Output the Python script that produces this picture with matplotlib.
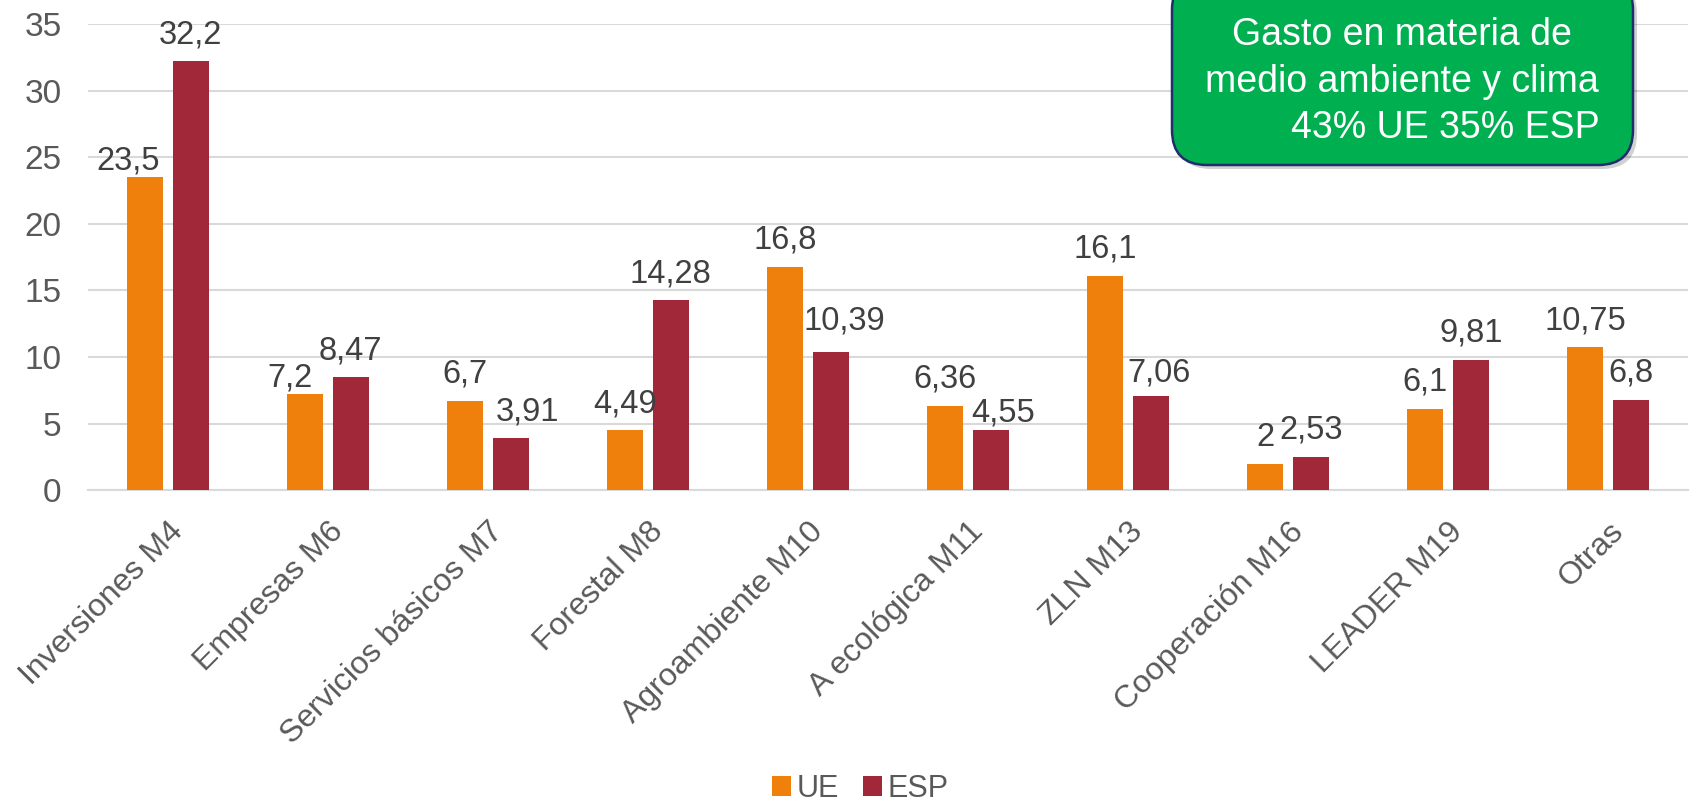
import matplotlib.pyplot as plt
import matplotlib.patches as mpatches
import numpy as np

plt.rcParams['font.family'] = ['Liberation Sans', 'DejaVu Sans']

categories = ["Inversiones M4", "Empresas M6", "Servicios básicos M7", "Forestal M8",
              "Agroambiente M10", "A ecológica M11", "ZLN M13", "Cooperación M16",
              "LEADER M19", "Otras"]
ue = [23.5, 7.2, 6.7, 4.49, 16.8, 6.36, 16.1, 2, 6.1, 10.75]
esp = [32.2, 8.47, 3.91, 14.28, 10.39, 4.55, 7.06, 2.53, 9.81, 6.8]
series_names = ["UE", "ESP"]
box_lines = ["Gasto en materia de", "medio ambiente y clima", "43% UE 35% ESP"]


def fmt(v):
    return ("%g" % v).replace(".", ",")


def main():
    fig = plt.figure(figsize=(16.94, 8.05), dpi=100)
    ax = fig.add_axes([0.052, 0.391, 0.9445, 0.579])

    x = np.arange(len(categories))
    w = 0.225
    off = 0.142
    b1 = ax.bar(x - off, ue, w, color="#EF800B", label=series_names[0], zorder=3)
    b2 = ax.bar(x + off, esp, w, color="#A02838", label=series_names[1], zorder=3)

    # labels moved by hand in the original (pixels), so they don't collide
    nudge = {(0, 0): (-17, -10), (0, 1): (-15, -10),
             (1, 2): (17, 0), (1, 4): (14, 4), (1, 5): (12, -10), (1, 6): (8, -3)}
    for s, (bars, vals) in enumerate([(b1, ue), (b2, esp)]):
        for i, (rect, v) in enumerate(zip(bars, vals)):
            dx, dy = nudge.get((s, i), (0, 0))
            ax.annotate(fmt(v), (rect.get_x() + rect.get_width() / 2, v),
                        xytext=(dx * 0.72, 13 + dy * 0.72), textcoords="offset points",
                        ha="center", va="baseline", fontsize=23.5, color="#404040")

    ax.set_xlim(-0.5, len(categories) - 0.5)
    ax.set_ylim(0, 35)
    ax.set_yticks(np.arange(0, 36, 5))
    ax.yaxis.grid(True, color="#D9D9D9", linewidth=1.5, zorder=0)
    for s in ["top", "right", "left"]:
        ax.spines[s].set_visible(False)
    ax.spines["bottom"].set_color("#D9D9D9")
    ax.spines["bottom"].set_linewidth(1.5)
    ax.tick_params(axis="both", length=0, labelcolor="#595959")
    ax.tick_params(axis="y", pad=19, labelsize=24)
    ax.tick_params(axis="x", pad=19, labelsize=23)
    ax.set_xticks(x)
    ax.set_xticklabels(categories, rotation=45, ha="right", va="top",
                       rotation_mode="anchor")

    fig.legend(handles=[b1, b2], labels=series_names, loc="center",
               bbox_to_anchor=(0.508, 0.02), ncol=2, frameon=False, fontsize=22,
               labelcolor="#595959", handlelength=0.6, handleheight=0.6,
               handletextpad=0.2, columnspacing=0.8)

    # annotation box (inches, from bottom-left)
    shadow = mpatches.FancyBboxPatch((11.76, 6.36), 4.61, 1.9,
                                     boxstyle="round,pad=0,rounding_size=0.35",
                                     transform=fig.dpi_scale_trans,
                                     facecolor="#000000", alpha=0.18,
                                     edgecolor="none", zorder=5)
    box = mpatches.FancyBboxPatch((11.72, 6.40), 4.61, 1.9,
                                  boxstyle="round,pad=0,rounding_size=0.35",
                                  transform=fig.dpi_scale_trans,
                                  facecolor="#00B050", edgecolor="#1F2F6E",
                                  linewidth=1.8, zorder=6)
    fig.patches.append(shadow)
    fig.patches.append(box)
    fig.text(14.02, 7.70, box_lines[0], transform=fig.dpi_scale_trans,
             ha="center", va="center", fontsize=27, color="white", zorder=7)
    fig.text(14.02, 7.23, box_lines[1], transform=fig.dpi_scale_trans,
             ha="center", va="center", fontsize=27, color="white", zorder=7)
    fig.text(16.00, 6.77, box_lines[2], transform=fig.dpi_scale_trans,
             ha="right", va="center", fontsize=27, color="white", zorder=7)

    fig.savefig("out.png", dpi=100)


if __name__ == "__main__":
    main()
